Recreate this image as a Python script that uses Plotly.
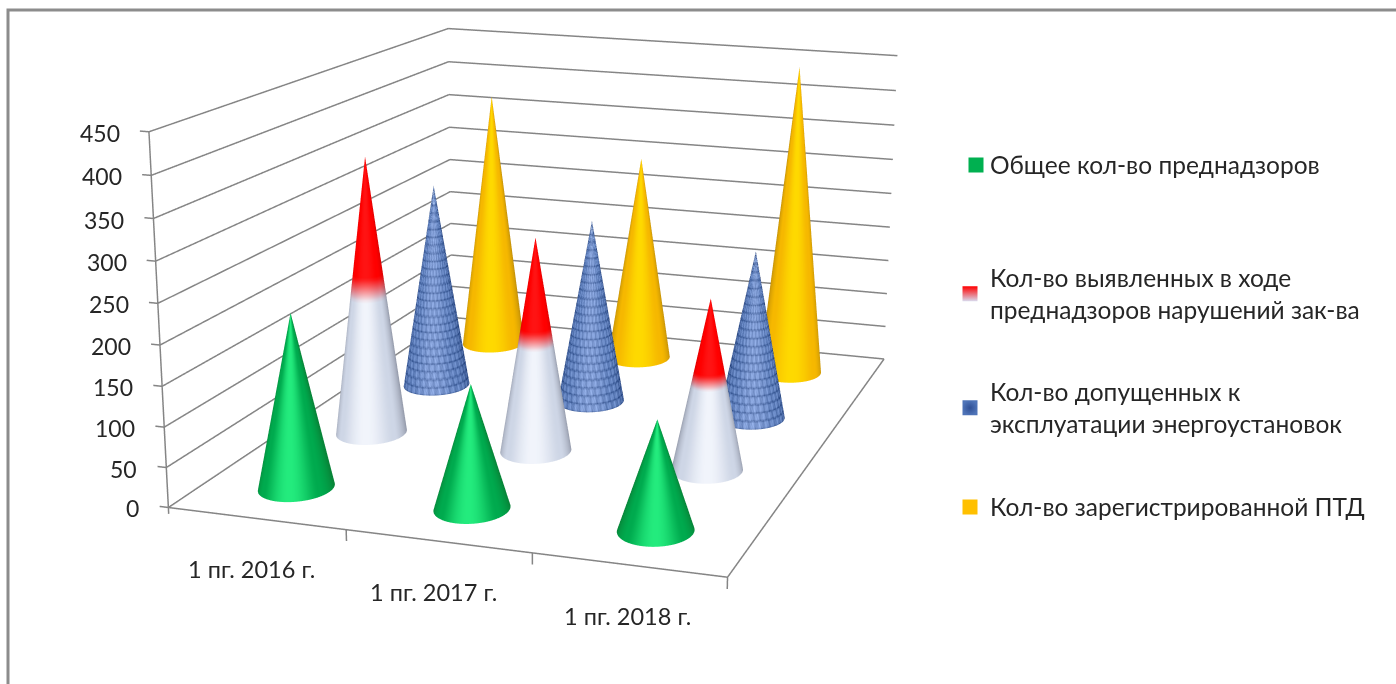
import numpy as np
import plotly.graph_objects as go

categories = ["1 пг. 2016 г.", "1 пг. 2017 г.", "1 пг. 2018 г."]
series_names = ["Общее кол-во преднадзоров",
                "Кол-во выявленных в ходе<br>преднадзоров нарушений зак-ва",
                "Кол-во допущенных к<br>эксплуатации энергоустановок",
                "Кол-во зарегистрированной ПТД"]
green_values = [220, 155, 136]
red_values = [367, 281, 223]
blue_values = [285, 254, 231]
yellow_values = [372, 297, 443]
z_ticks = [0, 50, 100, 150, 200, 250, 300, 350, 400, 450]

W, H = 1396, 684
XR = (-0.12, 3.02); YR = (-0.02, 4.02); ZR = (-30.0, 455.0)
kx, ky, kz = 0.3550, 0.3466, 0.7/450
eye = (1.4277, -4.0798, 1.1003)
center = (0.2686, 0.1046, -0.1561)
upv = (-0.0197, 0.0012, 1.0)
fndc = 6.4092
fovy = 2*np.arctan(1/fndc)
aspect = dict(x=kx*(XR[1]-XR[0]), y=ky*(YR[1]-YR[0]), z=kz*(ZR[1]-ZR[0]))
view_az = np.arctan2(eye[1]/ky, eye[0]/kx)

def mix(a, b, t):
    return np.array(a)*(1-t)[..., None] + np.array(b)*t[..., None]

def shade(phi, edge, base, bright):
    c = np.clip(np.cos(phi), 0, 1)
    col = mix(edge, base, np.clip(c/0.6, 0, 1))
    return mix(col, bright, np.clip((c-0.65)/0.35, 0, 1)**2)

def cone(cx, cy, h, kind, n_t=90, n_th=160):
    if kind == 2:
        n_t, n_th = 140, 220
    th = np.linspace(0, 2*np.pi, n_th, endpoint=False)
    tt = np.linspace(0, 1, n_t)
    T, TH = np.meshgrid(tt, th, indexing="ij")
    X = cx + 0.195*(1-T)*np.cos(TH); Y = cy + 0.235*(1-T)*np.sin(TH); Z = h*T
    phi = TH - view_az
    if kind == 0:
        rgb = shade(phi, (8,132,56), (0,170,78), (36,236,126))
    elif kind == 3:
        rgb = shade(phi, (192,142,10), (246,184,0), (255,218,0))
    elif kind == 1:
        low = shade(phi, (150,156,172), (206,214,230), (242,245,252))
        red = shade(phi, (222,0,0), (255,0,0), (255,20,20))
        w = np.clip((T-0.50)/0.08, 0, 1)
        rgb = low*(1-w)[..., None] + red*w[..., None]
    else:
        zu = T*h
        row = np.floor(zu*0.093)
        groove = np.cos(zu*0.093*2*np.pi)
        groove = np.clip(groove, 0, 1)**3
        mottle = (0.5*np.sin(TH*29+row*2.3) + 0.35*np.sin(TH*67+row*5.1+zu*0.31)
                  + 0.3*np.sin(TH*113-row*3.7+zu*0.8))
        b = shade(phi, (62,92,150), (100,132,192), (132,160,216))
        rgb = np.clip(b + (mottle*30 - groove*38)[..., None], 0, 255)
    rgb = rgb.astype(int)
    i, j, k = [], [], []
    for a in range(n_t-1):
        for b in range(n_th):
            p = a*n_th+b; q = a*n_th+(b+1) % n_th
            i += [p, p]; j += [q, q+n_th]; k += [q+n_th, p+n_th]
    cols = [f"rgb({r},{g},{b})" for r, g, b in rgb.reshape(-1, 3)]
    return go.Mesh3d(x=X.ravel(), y=Y.ravel(), z=Z.ravel(), i=i, j=j, k=k, vertexcolor=cols,
                     flatshading=False, hoverinfo="skip", showlegend=False,
                     lighting=dict(ambient=1, diffuse=0, specular=0, roughness=1, fresnel=0))

fig = go.Figure()
GRID = "#858585"
lx, ly, lz = [], [], []
def seg(p, q):
    lx.extend([p[0], q[0], None]); ly.extend([p[1], q[1], None]); lz.extend([p[2], q[2], None])
for t in z_ticks:
    seg((0,0,t),(0,4,t)); seg((0,4,t),(3,4,t)); seg((-0.05,0,t),(0,0,t))
seg((0,0,0),(0,0,450)); seg((0,0,0),(3,0,0)); seg((3,0,0),(3,4,0))
for c in range(1,4):
    seg((c,0,0),(c,0,-14))
seg((0,0,0),(0,0,-8))
fig.add_trace(go.Scatter3d(x=lx, y=ly, z=lz, mode="lines", line=dict(color=GRID, width=3), hoverinfo="skip", showlegend=False))

all_vals = [green_values, red_values, blue_values, yellow_values]
for s, vals in enumerate(all_vals):
    for c, v in enumerate(vals):
        fig.add_trace(cone(c+0.49, s+0.5, v, s))

FONT = "Lato"
leg_colors = ["#00b050", "#ff0000", "#4f74b8", "#ffc000"]
leg_y = [165, 294, 408, 507]
legends = {}
for s in range(4):
    name = "legend" if s == 0 else f"legend{s+1}"
    marker = dict(symbol="square", size=15, color=leg_colors[s], line=dict(width=0))
    if s == 1:
        marker["gradient"] = dict(type="vertical", color="#d8dcf0")
    if s == 2:
        marker["gradient"] = dict(type="radial", color="#2f4f95")
    fig.add_trace(go.Scatter(x=[None], y=[None], mode="markers", name=series_names[s], marker=marker, legend=name,
                             xaxis="x", yaxis="y"))
    legends[name] = dict(x=950/W, y=1-leg_y[s]/H, xanchor="left", yanchor="middle", bgcolor="rgba(0,0,0,0)",
                         font=dict(family=FONT, size=24.5, color="#262626"), itemclick=False, itemdoubleclick=False)

anns = []
for t in z_ticks:
    anns.append(dict(x=0, y=0, z=t, text=str(t), showarrow=False, xanchor="right", xshift=-27, yshift=-1, yanchor="middle",
                     font=dict(family=FONT, size=23, color="#262626")))
for c, (name, dx) in enumerate(zip(categories, [-5, -5, -1])):
    anns.append(dict(x=c+0.5, y=0, z=0, text=name, showarrow=False, xanchor="center", yanchor="middle", yshift=-51, xshift=dx,
                     font=dict(family=FONT, size=23.5, color="#262626")))

hidden = dict(visible=False, showgrid=False, zeroline=False, showticklabels=False, showspikes=False, title="", showbackground=False)
fig.update_layout(
    width=W, height=H, margin=dict(l=0, r=0, t=0, b=0), paper_bgcolor="white", plot_bgcolor="rgba(0,0,0,0)",
    xaxis=dict(visible=False), yaxis=dict(visible=False),
    scene=dict(domain=dict(x=[0,1], y=[0,1]), aspectmode="manual", aspectratio=aspect, dragmode="orbit",
               xaxis=dict(range=list(XR), **hidden), yaxis=dict(range=list(YR), **hidden), zaxis=dict(range=list(ZR), **hidden),
               camera=dict(eye=dict(x=eye[0], y=eye[1], z=eye[2]), center=dict(x=center[0], y=center[1], z=center[2]),
                           up=dict(x=upv[0], y=upv[1], z=upv[2]), projection=dict(type="perspective")),
               annotations=anns),
    shapes=[dict(type="path", xref="paper", yref="paper", path=f"M {8/W} 0 L {8/W} {1-10/H} L 1 {1-10/H}",
                 line=dict(color="#8c8c8c", width=3))],
    **legends,
)
post = """
document.body.style.margin = '0';
var gd = document.getElementById('{plot_id}');
var g = gd._fullLayout.scene._scene.glplot;
g.fovy = %f;
g.redraw();
document.querySelectorAll('.legend').forEach(function(leg) {
  var two = leg.querySelectorAll('.legendtext tspan.line').length > 1;
  leg.querySelectorAll('.legendsymbols').forEach(function(e) {
    e.setAttribute('transform', 'translate(6,' + (two ? -15 : 0) + ')');
  });
});
""" % fovy
fig.write_html("out.html", post_script=post, config=dict(displayModeBar=False))
